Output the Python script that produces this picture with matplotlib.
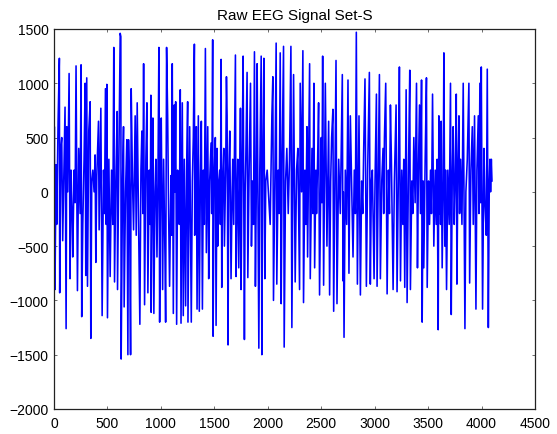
import matplotlib
matplotlib.use("Agg")
import matplotlib.pyplot as plt

# sample index / amplitude of the signal vertices
sample_idx = [
    0, 3, 9, 19, 25, 38, 50, 53, 63, 72, 81, 94, 103, 113, 119, 128, 141, 150,
    159, 169, 175, 188, 197, 206, 219, 231, 244, 253, 259, 269, 281, 291, 297,
    306, 313, 325, 338, 344, 353, 363, 375, 384, 391, 400, 416, 422, 438, 450,
    463, 472, 481, 488, 494, 500, 513, 525, 538, 550, 559, 566, 578, 591, 594,
    606, 619, 625, 628, 641, 650, 656, 669, 681, 691, 697, 706, 716, 722, 734,
    744, 759, 769, 778, 791, 803, 813, 822, 831, 838, 847, 859, 869, 878, 891,
    900, 906, 909, 919, 925, 934, 944, 953, 963, 972, 981, 988, 997, 1003, 1016,
    1025, 1038, 1044, 1053, 1063, 1072, 1081, 1094, 1100, 1106, 1116, 1125,
    1131, 1138, 1147, 1156, 1166, 1172, 1181, 1188, 1200, 1209, 1219, 1231,
    1241, 1250, 1253, 1269, 1275, 1284, 1294, 1303, 1313, 1316, 1325, 1331,
    1338, 1350, 1359, 1369, 1378, 1388, 1397, 1406, 1416, 1425, 1438, 1447,
    1456, 1469, 1475, 1484, 1488, 1497, 1509, 1516, 1525, 1531, 1541, 1550,
    1556, 1563, 1569, 1578, 1588, 1594, 1606, 1613, 1619, 1628, 1634, 1644,
    1656, 1666, 1672, 1681, 1697, 1703, 1713, 1719, 1728, 1738, 1744, 1750,
    1759, 1769, 1781, 1788, 1794, 1806, 1813, 1825, 1838, 1847, 1856, 1866,
    1875, 1884, 1894, 1900, 1916, 1925, 1938, 1944, 1953, 1963, 1972, 1981,
    1994,
    2022, 2038, 2047, 2053, 2066, 2078, 2084, 2097, 2106, 2116, 2125, 2134,
    2147, 2153, 2166, 2178, 2191, 2203, 2216, 2225, 2241, 2256, 2269, 2281,
    2297, 2303, 2316, 2328, 2334, 2347, 2356, 2366, 2372, 2381, 2391, 2397,
    2413, 2422, 2431, 2438, 2450, 2456, 2466, 2475, 2484, 2500, 2506, 2513,
    2522, 2538, 2553, 2569, 2578, 2588, 2597, 2609, 2616, 2628, 2638, 2647,
    2663, 2678, 2697, 2703, 2706, 2713, 2725, 2738, 2750, 2759, 2772, 2784,
    2797, 2809, 2819, 2828, 2838, 2853, 2866, 2878, 2888, 2897, 2909, 2922,
    2934, 2950, 2959, 2969, 2978, 2994, 3003, 3016, 3022, 3034, 3044, 3053,
    3066, 3078, 3084, 3091, 3103, 3116, 3128, 3138, 3147, 3156, 3172, 3184,
    3200, 3209, 3222, 3231, 3241, 3253, 3263, 3272, 3281, 3294, 3303, 3316,
    3328, 3334, 3347, 3356, 3366, 3378, 3391, 3400, 3409, 3419, 3428, 3438,
    3444, 3453, 3459, 3472, 3484, 3491, 3503, 3513, 3522, 3531, 3541, 3553,
    3566, 3575, 3584, 3594, 3600, 3606, 3609, 3616, 3622, 3631, 3641, 3647,
    3656, 3663, 3672, 3684, 3697, 3709, 3716, 3725, 3734, 3744, 3753, 3763,
    3769, 3778, 3788, 3794, 3803, 3816, 3828, 3844, 3853, 3866, 3881, 3888,
    3900, 3913, 3922, 3934, 3947, 3956, 3969, 3975, 3984, 3991, 3997, 4009,
    4022, 4031, 4044, 4053, 4063, 4072, 4078, 4084, 4091, 4097,
]

amplitude = [
    50, 600, -900, 250, -300, 650, 1230, -930, 400, 500, -450, 300, 780, -1260,
    600, 0, 1090, -800, 200, -200, -600, 200, -100, 1160, -910, 400, -200, 1170,
    -1150, -300, 300, 1000, -770, 1050, -870, 560, 830, -1350, 100, 200, 0, 340,
    -650, 150, 650, -350, 770, -1140, 200, -200, 950, -300, 990, -1160, 300,
    -780, 200, -300, 1330, -830, 100, 740, -900, 200, 1460, 1430, -1540, 100,
    600, -1060, 0, 480, -1500, 480, 0, -1500, 950, 100, -350, 700, -400, 820,
    -300, -1220, 200, 560, -200, 1180, -1040, 300, 820, -930, 200, -300, 890,
    -1110, 200, 680, -1120, 0, 300, -600, 100, 1330, -1200, 200, 680, -900,
    300, -600, -1200, 1330, 700, -200, -870, 150, -400, 1180, -1120, 800, 0,
    830, -1220, 200, 150, -300, 940, -1210, 820, -1140, 300, -1050, 200, 830,
    -1200, 600, -100, -1200, 100, 500, 1360, -400, 100, 600, -1080, 700, -1100,
    100, 650, -1080, 200, -300, 1320, -560, 600, -800, 100, 450, -200, 1400,
    -1330, 100, 500, -1230, 400, -500, 100, 200, -300, 1220, -880, 100, 400,
    -500, 200, 1060, 700, -1410, 100, 560, -800, 0, 300, -300, 1260, -780, 0,
    300, -700, 100, 770, -900, 200, 1250, -1360, 0, 300, 1100, -790, 200, 1000,
    -500, 100, -300, 1290, -870, 200, 1180, -1440, 200, 1250, -1500, 300, 1230,
    -800, 100, 200,
    -300, 700, 1060, -1000, 100, 1370, -850, 200, -200, 1280, -1030, 300, 1340,
    -1430, 100, 400, -200, 300, 1340, -1250, 1080, -830, 200, 400, -900, 1000,
    0, 1300, -1020, 200, -300, 600, -600, 200, 1180, -800, 400, -200, 1000,
    -700, 200, -200, 300, 820, -950, 500, -100, 1250, -860, 1000, -500, 650,
    -950, 100, 500, 760, -1100, 200, 1210, -1030, 300, -200, 1080, -820, 0,
    -1340, 200, -300, 1030, -750, 700, 100, -600, 200, -200, 1470, -850, 700,
    -950, 100, -200, 400, 1040, -870, 200, 1100, -850, 100, 200, -800, 100, 900,
    -870, 200, 1080, -800, 100, 400, -200, 500, 1000, -940, 200, -200, 800, 300,
    -900, 100, 800, -920, 200, 1150, -820, 200, -300, 300, -880, 940, -1020,
    200, 1120, -900, 100, -200, 500, -100, 1000, -700, 200, 800, -200, 1030,
    -1200, 100, -700, 300, 1050, -880, 100, -300, 200, -200, 900, -500, 200,
    -300, 300, -1270, 700, -200, 500, -300, 650, -700, 100, 1280, -500, 200,
    -900, 200, -300, 1000, -1130, 100, 600, -300, 100, 900, -850, 200, 700,
    -200, 300, -300, 1000, -1260, 0, 300, 1000, -840, 200, 600, -300, 700,
    -1080, 200, 700, -200, 1000, -100, 1150, -1080, 400, -100, -400, 1130,
    -1250, 100, 300, 0, 300, 100,
]

x_ticks = [0, 500, 1000, 1500, 2000, 2500, 3000, 3500, 4000, 4500]
y_ticks = [-2000, -1500, -1000, -500, 0, 500, 1000, 1500]

plt.rcParams["font.family"] = ["Liberation Sans", "DejaVu Sans"]

fig = plt.figure(figsize=(5.57, 4.35), dpi=100)
ax = fig.add_axes([0.097, 0.0575, 0.8636, 0.8736])

ax.plot(sample_idx, amplitude, color="#0000ff", linewidth=1.15)

ax.set_xlim(0, 4500)
ax.set_ylim(-2000, 1500)
ax.set_xticks(x_ticks)
ax.set_yticks(y_ticks)
ax.tick_params(direction="in", top=True, right=True, length=2.5,
               labelsize=10, width=0.6, color="#555555")
ax.tick_params(axis="y", pad=4)
ax.tick_params(axis="x", pad=5)
for spine in ax.spines.values():
    spine.set_linewidth(0.9)
    spine.set_color("#222222")

ax.set_title("Raw EEG Signal Set-S", fontsize=11, pad=7)

fig.savefig("out.png", dpi=100)
plt.close(fig)
